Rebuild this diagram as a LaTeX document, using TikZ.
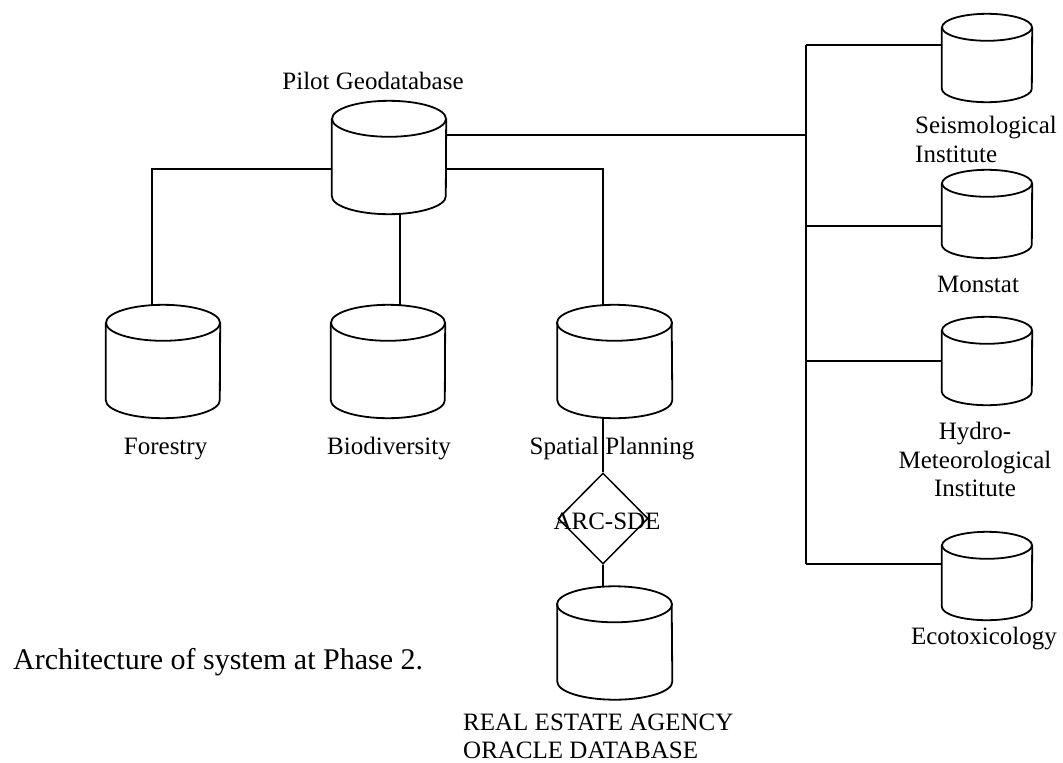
\documentclass[tikz,border=0pt]{standalone}
\usepackage{fontspec}
\setmainfont{Liberation Serif}
\usetikzlibrary{shapes.geometric}

\tikzset{
  lbl/.style={inner sep=0pt, font=\fontsize{25}{28.5}\selectfont},
  caption/.style={inner sep=0pt, font=\fontsize{30}{34}\selectfont},
  dbbox/.style={rectangle, inner sep=0pt},
  bigdb/.style={dbbox, minimum width=114pt, minimum height=113pt},
  smalldb/.style={dbbox, minimum width=90pt, minimum height=88pt},
  dbline/.style={line width=1.8pt},
  wire/.style={line width=1.4pt},
  gate/.style={diamond, draw, line width=1.5pt, inner sep=0pt,
               minimum width=90pt, minimum height=91pt},
}

\begin{document}
\begin{tikzpicture}[x=1pt, y=-1pt]
\useasboundingbox (0,0) rectangle (1063,763);

% database boxes (outlines are drawn below)
\node[bigdb] (pilot)    at (389,157.5) {};
\node[bigdb] (forestry) at (163,361.5) {};
\node[bigdb] (biodiv)   at (388,361.5) {};
\node[bigdb] (spatial)  at (614.5,361.5) {};
\node[bigdb] (real)     at (614.5,643) {};
\node[smalldb] (seis)    at (987,58) {};
\node[smalldb] (monstat) at (987,214) {};
\node[smalldb] (hydro)   at (987,361) {};
\node[smalldb] (ecotox)  at (987,576) {};

% gateway
\node[gate, label={[lbl, xshift=4pt, yshift=-2.5pt]center:ARC-SDE}] (sde) at (603,518.5) {};

% cylinder outlines
\foreach \n/\rx/\ry in {pilot/57/18, forestry/57/18, biodiv/57/18,
                        spatial/57.5/18, real/57.5/18,
                        seis/45/13.5, monstat/45/13.5, hydro/45/13.5, ecotox/45/13.5}
{
  \draw[dbline] ([yshift=-\ry pt]\n.north west) -- ([yshift=\ry pt]\n.south west)
    arc[start angle=180, end angle=360, x radius=\rx pt, y radius=\ry pt]
    -- ([yshift=-\ry pt]\n.north east);
  \draw[dbline] ([yshift=-\ry pt]\n.north) ellipse [x radius=\rx pt, y radius=\ry pt];
}

% junction points
\coordinate (tT) at (806,45);
\coordinate (tB) at (806,564);
\coordinate (j1) at (806,135);
\coordinate (bM) at (806,226);
\coordinate (bH) at (806,361);
\coordinate (fL) at (152,169);
\coordinate (sP) at (603,169);
\coordinate (bB) at (400,214);

% connectors
\draw[wire] (pilot.east |- j1) -- (j1);
\draw[wire] (tT) -- (tB);
\draw[wire] (tT) -- (seis.west |- tT);
\draw[wire] (bM) -- (monstat.west |- bM);
\draw[wire] (bH) -- (hydro.west |- bH);
\draw[wire] (tB) -- (ecotox.west |- tB);
\draw[wire] (pilot.west |- fL) -- (fL) -- (fL |- forestry.north);
\draw[wire] (bB) -- (bB |- biodiv.north);
\draw[wire] (pilot.east |- sP) -- (sP) -- (sP |- spatial.north);
\draw[wire] (sP |- spatial.south) -- (sde.north);
\draw[wire] (sde.south) -- (sde.south |- real.north);

% labels
\node[lbl, anchor=base] (tpilot) at (373,89) {Pilot Geodatabase};
\node[lbl, anchor=base] (tfor) at (165.6,454) {Forestry};
\node[lbl, anchor=base] (tbio) at (389,454) {Biodiversity};
\node[lbl, anchor=base] (tspa) at (612,454) {Spatial Planning};
\node[lbl, anchor=north west, align=left, font=\fontsize{25}{27.5}\selectfont] (treal) at (463,714) {REAL ESTATE AGENCY\\ORACLE DATABASE};
\node[lbl, anchor=north west, align=left] (tseis) at (915,116) {Seismological\\Institute};
\node[lbl, anchor=base] (tmon) at (978,292) {Monstat};
\node[lbl, anchor=north, align=center] (thyd) at (975,422) {Hydro-\\Meteorological\\Institute};
\node[lbl, anchor=base] (teco) at (984,644) {Ecotoxicology};
\node[caption, anchor=base west] (tcap) at (13,669) {Architecture of system at Phase 2.};
\end{tikzpicture}
\end{document}
